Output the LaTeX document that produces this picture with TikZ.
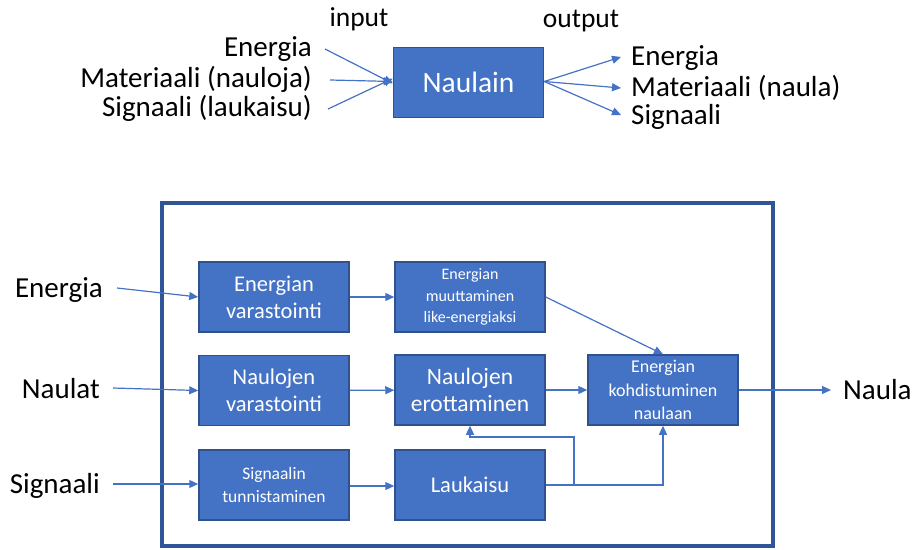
\documentclass[tikz,border=0pt]{standalone}
\usepackage{fontspec}
\setmainfont{Carlito}
\usetikzlibrary{arrows.meta}
\definecolor{boxfill}{HTML}{4472C4}
\definecolor{boxline}{HTML}{2F528F}
\definecolor{framec}{HTML}{2F5597}
\definecolor{arrc}{HTML}{4472C4}
\tikzset{
  blk/.style={draw=boxline, line width=1.5pt, fill=boxfill, text=white, minimum width=150pt, minimum height=70pt, align=center, inner sep=2pt},
  conn/.style={draw=arrc, line width=1.2pt, -{Triangle[length=9pt,width=8pt]}},
  lbl/.style={inner sep=0pt, font=\fontsize{29}{34}\selectfont}
}
\begin{document}
\begin{tikzpicture}[x=1pt,y=-1pt]
\useasboundingbox (0,0) rectangle (913,549);
% top part
\node[lbl, font=\fontsize{27.5}{32}\selectfont] (in) at (359,19) {input};
\node[lbl, font=\fontsize{27.5}{32}\selectfont] (out) at (581,21) {output};
\node[blk, font=\fontsize{29.5}{34}\selectfont] (nl) at (468.5,82.5) {Naulain};
\node[lbl, anchor=east] (ie) at (312,49) {Energia};
\node[lbl, anchor=east] (im) at (312,79) {Materiaali (nauloja)};
\node[lbl, anchor=east] (is) at (312,108) {Signaali (laukaisu)};
\coordinate (ie1) at (325,49);
\coordinate (im1) at (330,80);
\coordinate (is1) at (328,109);
\draw[conn] (ie1) -- ([yshift=-1pt]nl.west);
\draw[conn] (im1) -- ([yshift=1pt]nl.west);
\draw[conn] (is1) -- ([yshift=4pt]nl.west);
\node[lbl, anchor=west] (oe) at (631,58) {Energia};
\node[lbl, anchor=west] (om) at (631,88) {Materiaali (naula)};
\node[lbl, anchor=west] (os) at (631,117) {Signaali};
\coordinate (oe1) at (621,57);
\coordinate (om1) at (621,88);
\coordinate (os1) at (621,115);
\draw[conn] ([yshift=1pt]nl.east) -- (oe1);
\draw[conn] ([yshift=1pt]nl.east) -- (om1);
\draw[conn] ([yshift=1pt]nl.east) -- (os1);
% bottom frame
\draw[framec, line width=4pt] (162,203) rectangle (773,546);
% blocks
\node[blk, font=\fontsize{22.5}{27}\selectfont] (ev) at (274,297) {Energian\\varastointi};
\node[blk, font=\fontsize{16}{21.5}\selectfont] (em) at (470,297) {Energian\\muuttaminen\\like-energiaksi};
\node[blk, font=\fontsize{22.5}{27}\selectfont] (nv) at (274,390.5) {Naulojen\\varastointi};
\node[blk, font=\fontsize{23.5}{27}\selectfont] (ne) at (470,390) {Naulojen\\erottaminen};
\node[blk, font=\fontsize{18}{23.5}\selectfont] (ek) at (663,390) {Energian\\kohdistuminen\\naulaan};
\node[blk, font=\fontsize{17.5}{22.5}\selectfont] (st) at (274,485) {Signaalin\\tunnistaminen};
\node[blk, font=\fontsize{22.5}{27}\selectfont] (la) at (470,485) {Laukaisu};
% outer labels
\node[lbl, anchor=east] (le) at (103,290) {Energia};
\node[lbl, anchor=east] (ln) at (100,389) {Naulat};
\node[lbl, anchor=east] (ls) at (100,486) {Signaali};
\node[lbl, anchor=west] (rn) at (843,390) {Naula};
\coordinate (le1) at (117,288);
\coordinate (ln1) at (113,388);
\coordinate (ls1) at (113,484);
\coordinate (rn1) at (831,390);
\draw[conn] (le1) -- (ev.west);
\draw[conn] (ln1) -- (nv.west);
\draw[conn] (ls1) -- (st.west |- 0,484);
\draw[conn] (ev) -- (em);
\draw[conn] (nv) -- (ne);
\draw[conn] (ne) -- (ek);
\draw[conn] (st.east |- 0,486) -- (la.west |- 0,486);
\draw[conn] (em.east) -- (ek.north);
\draw[conn] (ek.east) -- (rn1);
\coordinate (br) at (574,485);
\draw[conn] (la.east) -- (br) -| (ek.south);
\draw[conn] (br) |- (ne.south |- 0,437) -- (ne.south);
\end{tikzpicture}
\end{document}
